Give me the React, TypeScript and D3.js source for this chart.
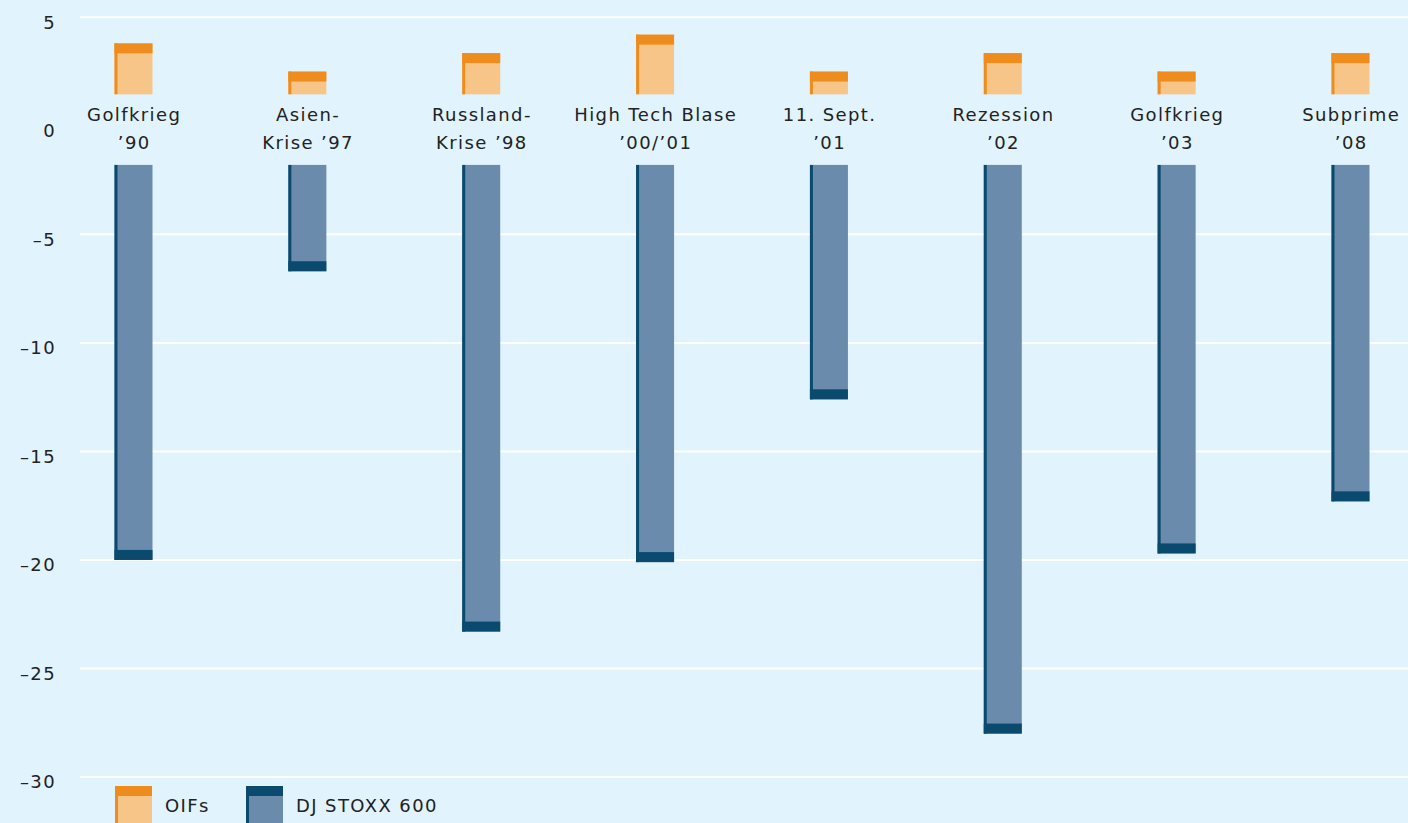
import React from "react";
import * as d3 from "d3";

const categories: string[][] = [
  ["Golfkrieg", "’90"],
  ["Asien-", "Krise ’97"],
  ["Russland-", "Krise ’98"],
  ["High Tech Blase", "’00/’01"],
  ["11. Sept.", "’01"],
  ["Rezession", "’02"],
  ["Golfkrieg", "’03"],
  ["Subprime", "’08"],
];
const oifs: number[] = [3.8, 2.5, 3.35, 4.2, 2.5, 3.35, 2.5, 3.35];
const stoxx: number[] = [-20.0, -6.7, -23.3, -20.1, -12.6, -28.0, -19.7, -17.3];
const yTicks: number[] = [5, 0, -5, -10, -15, -20, -25, -30];
const legendItems: string[] = ["OIFs", "DJ STOXX 600"];

const W = 1408;
const H = 823;
const BG = "#e1f3fc";
const OIF_FILL = "#f8c589";
const OIF_DARK = "#ee8d1d";
const STX_FILL = "#6a8bab";
const STX_DARK = "#0a4a6f";
const FONT = "'DejaVu Sans', 'Noto Sans', sans-serif";
const FS = 18;
const LS = 1.4;

export default function App() {
  const y = d3.scaleLinear().domain([5, -30]).range([17.3, 777]);
  const x = d3
    .scalePoint<number>()
    .domain(categories.map((_, i) => i))
    .range([133.5, 1350.5]);
  const bw = 38;
  const cap = 10;
  const edge = 3;
  const bandTop = y(1.45);
  const bandBottom = y(-1.8);

  return (
    <svg
      width={W}
      height={H}
      style={{ position: "absolute", left: 0, top: 0, display: "block" }}
    >
      <rect x={0} y={0} width={W} height={H} fill={BG} />
      {yTicks.map((t) => (
        <g key={t}>
          {t !== 0 && (
            <line x1={80} x2={W} y1={y(t)} y2={y(t)} stroke="#ffffff" strokeWidth={2} />
          )}
          <text
            x={56}
            y={y(t) + 5}
            dy="0.35em"
            textAnchor="end"
            fontFamily={FONT}
            fontSize={FS}
            letterSpacing={LS}
            fill="#222"
          >
            {t < 0 ? "–" + Math.abs(t) : String(t)}
          </text>
        </g>
      ))}
      {categories.map((c, i) => {
        const cx = x(i)!;
        const x0 = cx - bw / 2;
        const oTop = y(oifs[i]);
        const oBot = y(0);
        const sTop = y(0);
        const sBot = y(stoxx[i]);
        return (
          <g key={i}>
            <rect x={x0} y={oTop} width={bw} height={oBot - oTop} fill={OIF_FILL} />
            <rect x={x0} y={oTop} width={edge} height={oBot - oTop} fill={OIF_DARK} />
            <rect x={x0} y={oTop} width={bw} height={cap} fill={OIF_DARK} />
            <rect x={x0} y={sTop} width={bw} height={sBot - sTop} fill={STX_FILL} />
            <rect x={x0} y={sTop} width={edge} height={sBot - sTop} fill={STX_DARK} />
            <rect x={x0} y={sBot - cap} width={bw} height={cap} fill={STX_DARK} />
          </g>
        );
      })}
      <rect x={80} y={bandTop} width={W - 80} height={bandBottom - bandTop} fill={BG} />
      {categories.map((c, i) => (
        <text
          key={i}
          x={x(i)!}
          textAnchor="middle"
          fontFamily={FONT}
          fontSize={FS}
          letterSpacing={LS}
          fill="#222"
        >
          <tspan x={x(i)! + LS / 2} y={121}>
            {c[0]}
          </tspan>
          <tspan x={x(i)! + LS / 2} y={149}>
            {c[1]}
          </tspan>
        </text>
      ))}
      {legendItems.map((name, i) => {
        const lx = i === 0 ? 115 : 246;
        const fill = i === 0 ? OIF_FILL : STX_FILL;
        const dark = i === 0 ? OIF_DARK : STX_DARK;
        return (
          <g key={name}>
            <rect x={lx} y={786} width={37} height={40} fill={fill} />
            <rect x={lx} y={786} width={edge} height={40} fill={dark} />
            <rect x={lx} y={786} width={37} height={10} fill={dark} />
            <text
              x={lx + 50}
              y={812}
              fontFamily={FONT}
              fontSize={FS}
              letterSpacing={LS}
              fill="#222"
            >
              {name}
            </text>
          </g>
        );
      })}
    </svg>
  );
}
